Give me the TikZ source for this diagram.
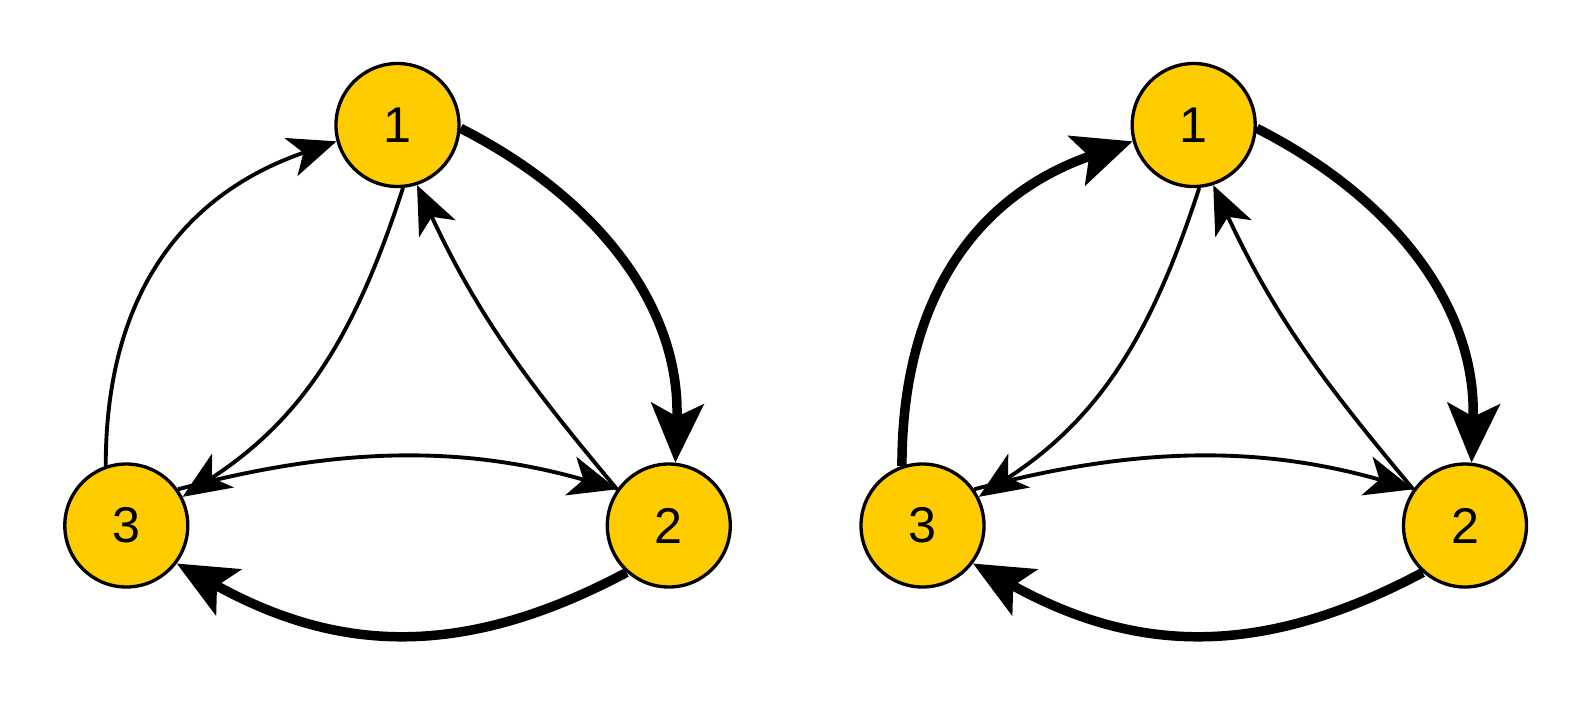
\documentclass[tikz,border=0pt]{standalone}
\usepackage{fontspec}
\setmainfont{Liberation Sans}
\usetikzlibrary{arrows.meta}
\definecolor{nodegold}{RGB}{255,204,0}
\tikzset{
  state/.style={circle,draw=black,line width=0.95pt,fill=nodegold,minimum size=12.3mm,inner sep=0pt,font=\fontsize{14.3}{17}\selectfont},
  thinedge/.style={line width=1.1pt,-{Stealth[length=4.8mm,width=4mm,inset=1.3mm]}},
  heavyedge/.style={line width=2.7pt,-{Stealth[length=5.9mm,width=5.2mm,inset=1.3mm]}}
}
% one copy of the three-state graph; #1 = style of the 3 -> 1 edge
\newcommand{\cyclegraph}[1]{
\node[state] (n1) at (3.975,5.75) {1};
\node[state] (n2) at (6.688,1.745) {2};
\node[state] (n3) at (1.263,1.745) {3};
\draw[heavyedge] (n1.-3) to[out=-27,in=88] (n2.84);
\draw[heavyedge] (n2.228) to[out=208,in=-29,looseness=1.05] (n3.-37);
\draw[#1] (n3.109) to[out=90,in=199,looseness=1.07] (n1.195);
\draw[thinedge] (n1.-85) to[out=252,in=33] (n3.27);
\draw[thinedge] (n2.145) to[out=130,in=-65] (n1.-72);
\draw[thinedge] (n3.35) to[out=15,in=164,looseness=0.95] (n2.145);
}

\begin{document}
\begin{tikzpicture}
\useasboundingbox (0,0) rectangle (15.9,7.0);
\begin{scope}[name prefix=a-]
\cyclegraph{thinedge}
\end{scope}
\begin{scope}[xshift=7.962cm,name prefix=b-]
\cyclegraph{heavyedge}
\end{scope}
\end{tikzpicture}
\end{document}
